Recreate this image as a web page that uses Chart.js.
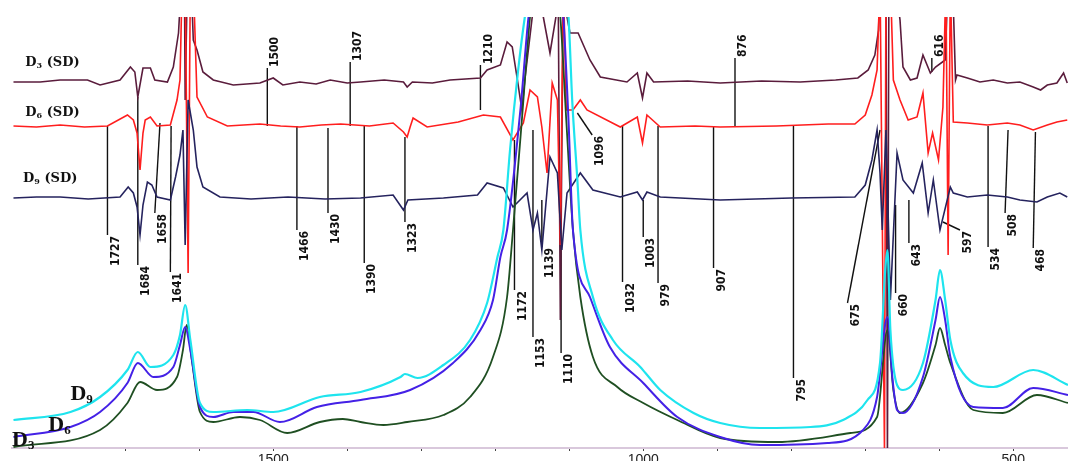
<!DOCTYPE html>
<html>
<head>
<meta charset="utf-8">
<script src="https://cdn.jsdelivr.net/npm/chart.js@4/dist/chart.umd.min.js"></script>
<style>
  html, body { margin: 0; padding: 0; background: #fff; }
  #wrap { width: 1068px; height: 461px; }
</style>
</head>
<body>
<div id="wrap"><canvas id="ftirChart"></canvas></div>
<script>
// wavenumber (cm-1), relative intensity
const d9Spectrum = [[1851,2.8],[1774,3.6],[1734,5.1],[1697,7.8],[1683,9.6],[1666,8.1],[1635,9.3],[1626,11.3],[1619,14.3],[1612,10.8],[1599,4.5],[1581,3.6],[1535,3.8],[1500,3.6],[1437,5.1],[1382,5.6],[1328,7.1],[1322,7.4],[1305,7.0],[1270,8.3],[1234,10.8],[1211,14.5],[1197,19.1],[1189,21.8],[1180,29.8],[1169,37.8],[1160,43.1],[1132,55],[1101,43.1],[1096,34.8],[1089,26.8],[1085,21.8],[1068,15.1],[1041,10.8],[1004,8.1],[997,7.5],[977,5.8],[932,3.5],[896,2.5],[842,2.0],[774,2.1],[730,2.8],[697,4.8],[680,8.5],[673,17.8],[670,19.8],[666,11.8],[657,6.3],[649,5.8],[622,8.5],[605,14.8],[599,17.8],[592,14.8],[585,10.8],[568,7.5],[527,6.1],[473,7.8],[426,6.3]];
const d6Spectrum = [[1851,1.1],[1774,2.1],[1734,3.6],[1697,6.5],[1683,8.5],[1662,7.1],[1635,8.1],[1626,10.3],[1619,12.1],[1612,9.8],[1599,4.1],[1581,3.1],[1554,3.6],[1527,3.6],[1491,2.6],[1441,4.1],[1382,4.8],[1315,5.8],[1257,8.5],[1220,11.8],[1203,14.8],[1193,19.1],[1184,21.8],[1166,33.8],[1155,43.1],[1131,55],[1108,43.1],[1101,32.8],[1095,21.8],[1072,15.1],[1045,10.1],[1000,6.5],[954,3.1],[896,1.1],[842,0.3],[751,0.5],[703,1.8],[684,5.1],[670,13.1],[663,6.8],[657,3.8],[649,3.5],[622,7.1],[605,12.8],[599,15.1],[592,12.8],[585,9.1],[554,4.1],[514,4.0],[473,6.0],[426,5.3]];
const d3Spectrum = [[1851,0.1],[1734,1.8],[1697,4.5],[1680,6.6],[1657,5.8],[1630,7.1],[1622,9.8],[1617,12.3],[1610,8.8],[1599,3.6],[1581,2.6],[1545,3.1],[1518,2.8],[1481,1.5],[1437,2.6],[1406,2.9],[1382,2.6],[1351,2.3],[1319,2.6],[1270,3.3],[1234,5.1],[1203,9.1],[1184,15.1],[1176,21.8],[1164,32.8],[1153,43.1],[1132,55],[1112,43.1],[1104,32.8],[1095,21.8],[1085,15.1],[1068,9.1],[1035,6.1],[1000,4.5],[954,2.8],[896,1.0],[819,0.6],[720,1.5],[684,3.1],[670,11.8],[662,5.8],[653,3.5],[622,6.5],[605,10.3],[599,12.0],[592,10.3],[585,8.5],[554,3.8],[514,3.5],[468,5.3],[426,4.5]];

// second-derivative traces (offset)
const d3Sd = [[1851,36.6],[1815,36.6],[1788,36.8],[1751,36.8],[1734,36.3],[1707,36.8],[1693,38.1],[1687,37.6],[1683,35.1],[1676,38.0],[1666,38.0],[1660,36.8],[1643,36.6],[1635,38.1],[1628,41.5],[1624,46.8],[1620,46.8],[1619,34.8],[1616,46.8],[1611,46.8],[1608,40.8],[1603,39.8],[1595,37.6],[1581,36.8],[1554,36.3],[1518,36.5],[1500,37.0],[1487,36.3],[1464,36.6],[1442,36.4],[1423,36.8],[1400,36.5],[1382,36.6],[1350,36.8],[1324,36.6],[1319,36.1],[1312,36.6],[1285,36.5],[1261,36.8],[1220,37.0],[1211,37.8],[1193,38.3],[1184,40.6],[1177,40.1],[1170,36.8],[1164,33.8],[1160,36.8],[1150,43.1],[1142,46.8],[1135,43.1],[1126,39.5],[1118,43.1],[1115,46.8],[1112,12.8],[1108,46.8],[1103,43.1],[1099,41.5],[1088,41.5],[1072,38.8],[1058,37.1],[1022,36.6],[1008,37.5],[1001,35.0],[995,37.5],[986,36.6],[940,36.7],[896,36.5],[840,36.7],[788,36.6],[740,36.8],[710,37.0],[696,37.8],[687,39.3],[682,41.8],[680,46.8],[674,46.8],[672,46.8],[670,-0.7],[668,46.8],[660,46.8],[653,42.8],[649,38.1],[639,36.8],[630,37.0],[622,39.3],[612,37.5],[605,38.1],[592,38.8],[588,46.8],[582,46.8],[578,36.8],[576,37.3],[562,37.0],[545,36.6],[527,36.8],[508,36.5],[491,36.6],[473,36.1],[463,35.8],[454,36.3],[441,36.5],[432,37.5],[427,36.5]];
const d6Sd = [[1851,32.2],[1820,32.1],[1788,32.3],[1755,32.1],[1724,32.2],[1697,33.3],[1689,32.8],[1684,31.5],[1680,27.8],[1676,31.5],[1673,32.8],[1666,33.1],[1657,32.2],[1639,32.3],[1630,34.8],[1626,36.8],[1623,46.8],[1619,46.8],[1615,17.5],[1612,46.8],[1608,46.8],[1603,35.1],[1589,33.1],[1562,32.2],[1540,32.3],[1518,32.4],[1490,32.2],[1464,32.1],[1435,32.3],[1409,32.4],[1370,32.2],[1338,32.5],[1324,31.6],[1319,31.1],[1315,32.1],[1311,33.0],[1292,32.1],[1250,32.6],[1216,33.3],[1193,33.1],[1176,30.8],[1162,32.5],[1153,35.8],[1143,35.1],[1137,32.1],[1130,27.5],[1123,36.5],[1116,34.8],[1112,20.3],[1108,46.8],[1104,33.8],[1095,33.8],[1085,34.8],[1076,33.8],[1031,32.1],[1008,33.1],[1001,30.5],[995,33.3],[977,32.1],[930,32.2],[896,32.1],[820,32.2],[750,32.4],[714,32.4],[700,33.3],[691,35.3],[684,37.8],[680,46.8],[674,-0.2],[672,46.8],[666,46.8],[662,36.8],[653,34.8],[642,32.8],[630,33.1],[622,35.5],[615,29.5],[609,31.5],[601,28.8],[595,34.1],[591,46.8],[588,19.3],[585,46.8],[581,32.6],[562,32.5],[535,32.3],[508,32.5],[491,32.3],[473,31.8],[454,32.3],[441,32.6],[427,32.8]];
const d9Sd = [[1851,25.0],[1820,25.1],[1788,25.1],[1750,24.9],[1707,25.1],[1696,26.1],[1689,25.5],[1684,24.1],[1680,21.3],[1676,24.3],[1670,26.6],[1664,26.3],[1657,25.1],[1639,24.8],[1632,27.1],[1626,29.3],[1622,31.8],[1619,20.3],[1615,34.8],[1608,31.8],[1603,28.1],[1595,26.1],[1572,25.1],[1530,24.9],[1480,25.1],[1430,24.9],[1382,25.0],[1338,25.3],[1324,23.8],[1318,24.8],[1270,25.0],[1224,25.3],[1211,26.5],[1189,26.0],[1176,24.1],[1157,25.5],[1149,21.8],[1143,23.5],[1137,19.8],[1126,29.1],[1116,27.5],[1110,19.8],[1103,25.5],[1085,27.5],[1068,25.8],[1031,25.1],[1008,25.6],[1001,24.8],[995,25.6],[977,25.1],[896,24.8],[800,25.0],[714,25.1],[700,26.3],[691,28.8],[684,31.8],[680,27.5],[677,21.8],[672,31.8],[666,14.8],[657,29.5],[649,26.8],[635,25.5],[623,28.5],[615,23.5],[608,26.8],[599,21.8],[585,26.1],[581,25.5],[562,25.1],[535,25.3],[508,25.1],[491,24.8],[468,24.6],[454,25.1],[437,25.5],[427,25.1]];

// band assignments: label, leader start, leader end (label sits past the end)
const bandLabels = ['1500','1307','1210','876','616','1727','1684','1658','1641','1466','1430','1390','1323','1172','1153','1139','1110','1096','1032','1003','979','907','795','675','660','643','597','534','508','468'];
const bandStart = [[1508,32.2],[1396,32.2],[1220,33.8],[876,32.1],[610,37.6],[1724,32.2],[1683,35.1],[1653,32.5],[1638,32.2],[1468,32.2],[1426,32.0],[1377,32.2],[1322,31.1],[1174,30.8],[1149,31.8],[1137,24.8],[1111,19.8],[1089,33.5],[1028,32.2],[1000,24.8],[980,32.2],[905,32.2],[797,32.2],[680,31.8],[659,24.3],[641,24.8],[595,22.6],[534,32.2],[507,31.8],[470,31.6]];
const bandEnd = [[1508,38.0],[1396,38.6],[1220,38.3],[876,39.0],[610,39.0],[1724,21.3],[1683,18.3],[1660,23.5],[1639,17.6],[1468,21.8],[1426,23.5],[1377,18.5],[1322,22.6],[1174,15.8],[1149,11.1],[1137,20.1],[1111,9.5],[1069,31.3],[1028,16.6],[1000,21.1],[980,16.5],[905,18.0],[797,7.0],[724,14.5],[659,15.5],[641,20.5],[572,21.8],[534,20.1],[511,23.5],[473,20.0]];

const xTicks = [500, 1000, 1500];

function toPoints(pairs) {
    return pairs.map(p => ({x: p[0], y: p[1]}));
}

const datasets = [
    {data: toPoints(d9Spectrum), borderColor: '#1ee4ee', borderWidth: 2.2, cubicInterpolationMode: 'monotone'},
    {data: toPoints(d6Spectrum), borderColor: '#4421e6', borderWidth: 2, cubicInterpolationMode: 'monotone'},
    {data: toPoints(d3Spectrum), borderColor: '#1f4f22', borderWidth: 1.8, cubicInterpolationMode: 'monotone'},
    {data: toPoints(d9Sd), borderColor: '#25235e', borderWidth: 1.6},
    {data: toPoints(d6Sd), borderColor: '#ff1e1e', borderWidth: 1.6},
    {data: toPoints(d3Sd), borderColor: '#5a1c3c', borderWidth: 1.6}
];
bandLabels.forEach((lab, i) => {
    datasets.push({
        data: [{x: bandStart[i][0], y: bandStart[i][1]}, {x: bandEnd[i][0], y: bandEnd[i][1]}],
        borderColor: '#111', borderWidth: 1.4
    });
});

// rotated band numbers and series names
const labelPlugin = {
    id: 'labelPlugin',
    afterDatasetsDraw(chart) {
        const ctx = chart.ctx;
        const xs = chart.scales.x, ys = chart.scales.y;
        ctx.save();
        ctx.fillStyle = '#111';
        ctx.font = 'bold 12px "DejaVu Sans Condensed", "Liberation Sans Narrow", sans-serif';
        ctx.textBaseline = 'middle';
        bandLabels.forEach((lab, i) => {
            const up = bandEnd[i][1] > bandStart[i][1];
            const px = xs.getPixelForValue(bandEnd[i][0]);
            const py = ys.getPixelForValue(bandEnd[i][1]);
            ctx.save();
            ctx.translate(px + 8, up ? py - 1 : py + 1);
            ctx.rotate(-Math.PI / 2);
            ctx.textAlign = up ? 'left' : 'right';
            ctx.fillText(lab, 0, 0);
            ctx.restore();
        });

        function dName(sub, rest, wn, lev, size, fam) {
            let x = xs.getPixelForValue(wn);
            const y = ys.getPixelForValue(lev);
            ctx.textAlign = 'left';
            ctx.textBaseline = 'alphabetic';
            ctx.font = 'bold ' + size + 'px ' + fam;
            ctx.fillText('D', x, y);
            x += ctx.measureText('D').width;
            ctx.font = 'bold ' + Math.round(size * 0.6) + 'px ' + fam;
            ctx.fillText(sub, x, y + size * 0.12);
            x += ctx.measureText(sub).width;
            if (rest) {
                ctx.font = 'bold ' + size + 'px ' + fam;
                ctx.fillText(rest, x, y);
            }
        }
        const sdFont = '"DejaVu Serif", "Liberation Serif", serif';
        const bigFont = '"Liberation Serif", "DejaVu Serif", serif';
        dName('3', ' (SD)', 1835, 38.2, 13, sdFont);
        dName('6', ' (SD)', 1835, 33.2, 13, sdFont);
        dName('9', ' (SD)', 1838, 26.6, 13, sdFont);
        dName('9', '', 1774, 4.8, 22, bigFont);
        dName('6', '', 1804, 1.7, 22, bigFont);
        dName('3', '', 1853, 0.2, 22, bigFont);
        ctx.restore();
    }
};

new Chart(document.getElementById('ftirChart').getContext('2d'), {
    type: 'line',
    data: {datasets: datasets},
    plugins: [labelPlugin],
    options: {
        responsive: true,
        maintainAspectRatio: false,
        animation: false,
        layout: {padding: {top: 17, left: 12, right: 0, bottom: 0}},
        elements: {point: {radius: 0}, line: {tension: 0, fill: false}},
        plugins: {legend: {display: false}, tooltip: {enabled: false}},
        scales: {
            x: {
                type: 'linear',
                reverse: true,
                min: 426,
                max: 1853,
                afterFit(scale) { scale.height = 13; },
                afterBuildTicks(scale) {
                    scale.ticks = scale.ticks.filter(t => t.value % 100 === 0);
                },
                ticks: {
                    stepSize: 100,
                    autoSkip: false,
                    maxRotation: 0,
                    padding: 1,
                    color: '#222',
                    font: {size: 14, family: '"Liberation Sans", Arial, sans-serif'},
                    callback: v => (xTicks.includes(v) ? v : '')
                },
                grid: {drawOnChartArea: false, drawTicks: true, tickLength: 3, color: '#444'},
                border: {display: true, color: '#d9c8dc', width: 2}
            },
            y: {
                type: 'linear',
                display: false,
                min: 0,
                max: 43.1
            }
        }
    }
});
</script>
</body>
</html>
